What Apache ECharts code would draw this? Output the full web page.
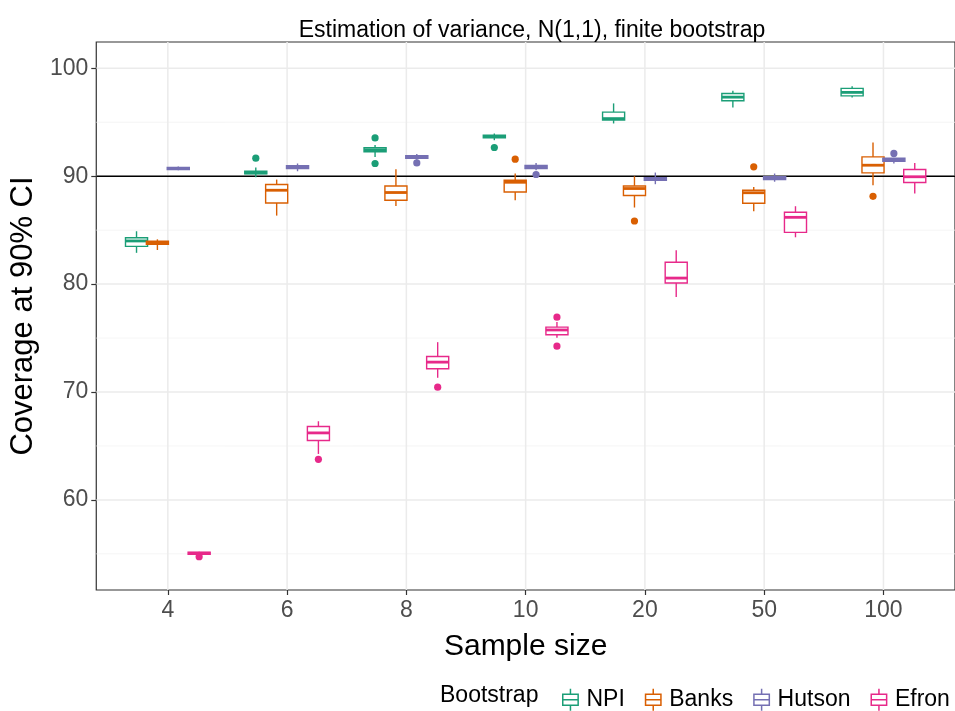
<!DOCTYPE html>
<html>
<head>
<meta charset="utf-8">
<script src="https://cdn.jsdelivr.net/npm/echarts@6/dist/echarts.min.js"></script>
<style>
  html, body { margin: 0; padding: 0; background: #fff; }
  #chart { width: 955px; height: 711px; }
</style>
</head>
<body>
<div id="chart"></div>
<script>
// Sample sizes on the x axis
const categories = ['4', '6', '8', '10', '20', '50', '100'];

// Box statistics per sample size: [lower whisker, Q1, median, Q3, upper whisker]
const npiStats = [
  [82.9, 83.5, 84.0, 84.3, 84.9],
  [89.9, 90.23, 90.32, 90.46, 90.81],
  [91.79, 92.27, 92.46, 92.65, 92.9],
  [93.34, 93.57, 93.67, 93.8, 93.96],
  [94.89, 95.2, 95.34, 95.94, 96.75],
  [96.38, 96.99, 97.33, 97.67, 97.92],
  [97.3, 97.45, 97.77, 98.14, 98.35]
];
const banksStats = [
  [83.16, 83.69, 83.83, 83.97, 84.15],
  [86.35, 87.52, 88.7, 89.23, 89.69],
  [87.24, 87.77, 88.49, 89.1, 90.65],
  [87.77, 88.54, 89.44, 89.63, 90.25],
  [87.1, 88.21, 88.86, 89.1, 90.0],
  [86.75, 87.49, 88.47, 88.7, 89.01],
  [89.16, 90.31, 91.02, 91.79, 93.13]
];
const hutsonStats = [
  [90.55, 90.62, 90.72, 90.82, 90.9],
  [90.46, 90.7, 90.84, 90.97, 91.18],
  [91.53, 91.67, 91.76, 91.9, 92.07],
  [90.56, 90.7, 90.84, 90.99, 91.23],
  [89.26, 89.63, 89.72, 89.86, 90.34],
  [89.49, 89.68, 89.81, 89.95, 90.25],
  [91.18, 91.39, 91.53, 91.67, 91.72]
];
const efronStats = [
  [54.9, 54.95, 55.05, 55.15, 55.2],
  [64.26, 65.5, 66.21, 66.8, 67.29],
  [71.32, 72.15, 72.77, 73.29, 74.62],
  [75.03, 75.31, 75.75, 76.01, 76.48],
  [78.8, 80.1, 80.56, 82.02, 83.13],
  [84.34, 84.8, 86.19, 86.66, 87.22],
  [88.39, 89.42, 89.95, 90.62, 91.23]
];

// Outlying runs: [sample size index, coverage]
const npiOutliers = [[1, 91.67], [2, 93.55], [2, 91.18], [3, 92.66]];
const banksOutliers = [[3, 91.58], [4, 85.85], [5, 90.87], [6, 88.14]];
const hutsonOutliers = [[2, 91.23], [3, 90.16], [6, 92.11]];
const efronOutliers = [[0, 54.73], [1, 63.76], [2, 70.45], [3, 76.94], [3, 74.25]];

// Axis ticks
const yTicks = [60, 70, 80, 90, 100];
const yMinor = [55, 65, 75, 85, 95];
const nominal = 90;

const methods = [
  { name: 'NPI', color: '#1B9E77', stats: npiStats, outliers: npiOutliers },
  { name: 'Banks', color: '#D95F02', stats: banksStats, outliers: banksOutliers },
  { name: 'Hutson', color: '#7570B3', stats: hutsonStats, outliers: hutsonOutliers },
  { name: 'Efron', color: '#E7298A', stats: efronStats, outliers: efronOutliers }
];

const X_MIN = -0.6, X_MAX = 6.6, Y_MIN = 51.65, Y_MAX = 102.44;
const DODGE = 0.175;   // spacing between dodged boxes, in category units
const BOXW = 0.185;    // box width, in category units
const FONT = '"Liberation Sans", Arial, Helvetica, sans-serif';

function boxRenderer(k, color) {
  return function (params, api) {
    const c = api.value(0);
    const band = api.size([1, 0])[0];
    const x = api.coord([c, 0])[0] + (k - 1.5) * DODGE * band;
    const hw = BOXW * band / 2;
    const y = v => api.coord([c, v])[1];
    const lo = y(api.value(1)), q1 = y(api.value(2)), med = y(api.value(3)),
          q3 = y(api.value(4)), hi = y(api.value(5));
    const ls = { stroke: color, lineWidth: 1.4 };
    return {
      type: 'group',
      children: [
        { type: 'line', shape: { x1: x, y1: hi, x2: x, y2: q3 }, style: ls },
        { type: 'line', shape: { x1: x, y1: q1, x2: x, y2: lo }, style: ls },
        { type: 'rect', shape: { x: x - hw, y: q3, width: 2 * hw, height: q1 - q3 },
          style: { fill: '#fff', stroke: color, lineWidth: 1.4 } },
        { type: 'line', shape: { x1: x - hw, y1: med, x2: x + hw, y2: med },
          style: { stroke: color, lineWidth: 2.8 } }
      ]
    };
  };
}

function outlierRenderer(k, color) {
  return function (params, api) {
    const c = api.value(0);
    const band = api.size([1, 0])[0];
    const p = api.coord([c, api.value(1)]);
    return {
      type: 'circle',
      shape: { cx: p[0] + (k - 1.5) * DODGE * band, cy: p[1], r: 3.6 },
      style: { fill: color }
    };
  };
}

// Grid lines drawn through the axis scales
function gridRenderer(params, api) {
  const children = [];
  const left = api.coord([X_MIN, 0])[0], right = api.coord([X_MAX, 0])[0];
  const top = api.coord([0, Y_MAX])[1], bottom = api.coord([0, Y_MIN])[1];
  yMinor.forEach(v => {
    const yy = api.coord([0, v])[1];
    children.push({ type: 'line', shape: { x1: left, y1: yy, x2: right, y2: yy },
      style: { stroke: '#F2F2F2', lineWidth: 0.8 } });
  });
  yTicks.forEach(v => {
    const yy = api.coord([0, v])[1];
    children.push({ type: 'line', shape: { x1: left, y1: yy, x2: right, y2: yy },
      style: { stroke: '#EBEBEB', lineWidth: 1.5 } });
  });
  categories.forEach((_, i) => {
    const xx = api.coord([i, 0])[0];
    children.push({ type: 'line', shape: { x1: xx, y1: top, x2: xx, y2: bottom },
      style: { stroke: '#EBEBEB', lineWidth: 1.5 } });
  });
  return { type: 'group', children };
}

const series = [
  {
    type: 'custom', name: 'grid', silent: true, z: 0,
    data: [[0, 0]], renderItem: gridRenderer
  },
  {
    type: 'custom', name: 'nominal', silent: true, z: 1,
    data: [[0, nominal]],
    renderItem: (params, api) => {
      const yy = api.coord([0, api.value(1)])[1];
      return { type: 'line',
        shape: { x1: api.coord([X_MIN, 0])[0], y1: yy, x2: api.coord([X_MAX, 0])[0], y2: yy },
        style: { stroke: '#000', lineWidth: 1.6 } };
    }
  }
];
methods.forEach((m, k) => {
  series.push({
    type: 'custom', name: m.name, z: 3,
    itemStyle: { color: m.color },
    data: m.stats.map((s, i) => [i].concat(s)),
    encode: { x: 0, y: [1, 2, 3, 4, 5] },
    renderItem: boxRenderer(k, m.color)
  });
  series.push({
    type: 'custom', name: m.name, z: 4,
    itemStyle: { color: m.color },
    data: m.outliers,
    encode: { x: 0, y: 1 },
    renderItem: outlierRenderer(k, m.color)
  });
});

const boxIcon = 'path://M10,0 L10,5 M3,5 L17,5 L17,15 L3,15 Z M3,10 L17,10 M10,15 L10,20';

const chart = echarts.init(document.getElementById('chart'), null, { renderer: 'canvas' });
chart.setOption({
  animation: false,
  backgroundColor: '#fff',
  title: {
    text: 'Estimation of variance, N(1,1), finite bootstrap',
    left: 527, top: 14, textAlign: 'center',
    textStyle: { fontFamily: FONT, fontSize: 23, fontWeight: 'normal', color: '#000' }
  },
  grid: {
    left: 94, top: 42, width: 866, height: 548,
    show: true, borderColor: '#333', borderWidth: 1.2, backgroundColor: 'transparent'
  },
  xAxis: {
    type: 'value', min: X_MIN, max: X_MAX,
    name: 'Sample size', nameLocation: 'middle', nameGap: 42,
    nameTextStyle: { fontFamily: FONT, fontSize: 30, color: '#000' },
    axisLine: { show: false, onZero: false },
    axisTick: { show: true, customValues: [0, 1, 2, 3, 4, 5, 6], length: 5,
      lineStyle: { color: '#333', width: 1.2 } },
    axisLabel: { customValues: [0, 1, 2, 3, 4, 5, 6], margin: 9,
      formatter: v => categories[Math.round(v)],
      fontFamily: FONT, fontSize: 23, color: '#4D4D4D' },
    splitLine: { show: false }
  },
  yAxis: {
    type: 'value', min: Y_MIN, max: Y_MAX,
    name: 'Coverage at 90% CI', nameLocation: 'middle', nameGap: 41,
    nameTextStyle: { fontFamily: FONT, fontSize: 31, color: '#000' },
    axisLine: { show: false, onZero: false },
    axisTick: { show: true, customValues: yTicks, length: 5,
      lineStyle: { color: '#333', width: 1.2 } },
    axisLabel: { customValues: yTicks, margin: 8,
      fontFamily: FONT, fontSize: 23, color: '#4D4D4D' },
    splitLine: { show: false }
  },
  legend: {
    left: 557, top: 683, itemWidth: 22, itemHeight: 22, itemGap: 20,
    textStyle: { fontFamily: FONT, fontSize: 23, color: '#000' },
    data: methods.map(m => ({
      name: m.name, icon: boxIcon,
      itemStyle: { color: '#fff', borderColor: m.color, borderWidth: 1.5 }
    }))
  },
  graphic: [{
    type: 'text', left: 440, top: 684,
    style: { text: 'Bootstrap', fontFamily: FONT, fontSize: 23, fill: '#000' }
  }],
  series
});
</script>
</body>
</html>
